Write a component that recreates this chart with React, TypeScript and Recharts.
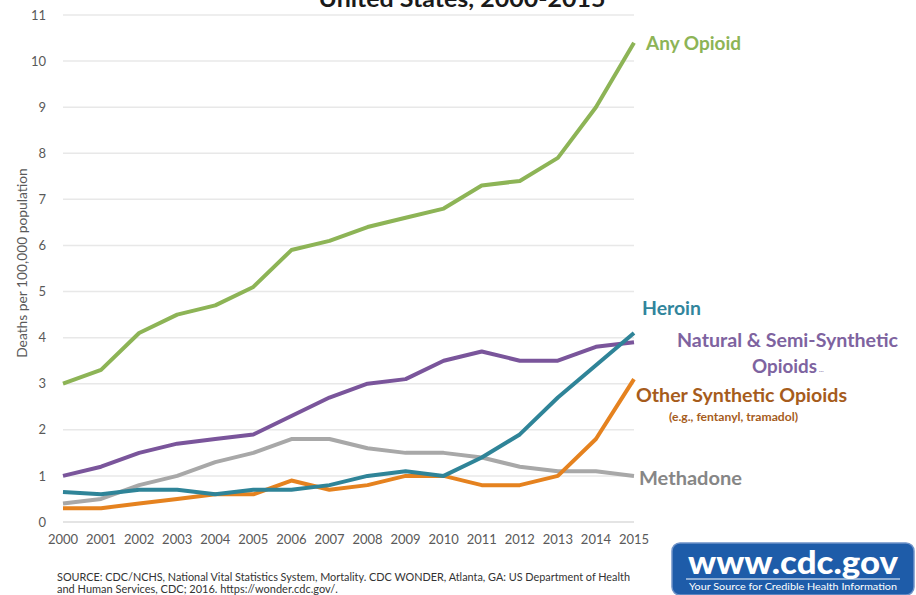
import { LineChart, Line, XAxis, YAxis, CartesianGrid } from "recharts"

const years = ["2000", "2001", "2002", "2003", "2004", "2005", "2006", "2007", "2008", "2009", "2010", "2011", "2012", "2013", "2014", "2015"]
const anyOpioid = [3.0, 3.3, 4.1, 4.5, 4.7, 5.1, 5.9, 6.1, 6.4, 6.6, 6.8, 7.3, 7.4, 7.9, 9.0, 10.4]
const naturalSemi = [1.0, 1.2, 1.5, 1.7, 1.8, 1.9, 2.3, 2.7, 3.0, 3.1, 3.5, 3.7, 3.5, 3.5, 3.8, 3.9]
const methadone = [0.4, 0.5, 0.8, 1.0, 1.3, 1.5, 1.8, 1.8, 1.6, 1.5, 1.5, 1.4, 1.2, 1.1, 1.1, 1.0]
const otherSynthetic = [0.3, 0.3, 0.4, 0.5, 0.6, 0.6, 0.9, 0.7, 0.8, 1.0, 1.0, 0.8, 0.8, 1.0, 1.8, 3.1]
const heroin = [0.65, 0.6, 0.7, 0.7, 0.6, 0.7, 0.7, 0.8, 1.0, 1.1, 1.0, 1.4, 1.9, 2.7, 3.4, 4.1]
const yTicks = [0, 1, 2, 3, 4, 5, 6, 7, 8, 9, 10, 11]

const data = years.map((year, i) => ({
  year,
  anyOpioid: anyOpioid[i],
  naturalSemi: naturalSemi[i],
  methadone: methadone[i],
  otherSynthetic: otherSynthetic[i],
  heroin: heroin[i],
}))

const font = "Lato, 'Open Sans', sans-serif"

export default function App() {
  return (
    <div style={{ position: "absolute", left: 0, top: 0, width: 916, height: 595, overflow: "hidden", background: "#fff", fontFamily: font }}>
      <LineChart width={916} height={595} data={data} margin={{ top: 15, right: 282, left: 0, bottom: 0 }}>
        <CartesianGrid vertical={false} stroke="#e8e8e8" strokeWidth={1.5} />
        <XAxis
          dataKey="year"
          height={73}
          tickSize={0}
          tickMargin={13}
          axisLine={{ stroke: "#e0e0e0", strokeWidth: 1.5 }}
          tick={{ fill: "#595959", fontSize: 13, fontFamily: font }}
          interval={0}
        />
        <YAxis
          width={63}
          domain={[0, 11]}
          ticks={yTicks}
          tickSize={0}
          tickMargin={17}
          axisLine={false}
          tick={{ fill: "#595959", fontSize: 13, fontFamily: font }}
        />
        <Line dataKey="anyOpioid" stroke="#8db456" strokeWidth={4} dot={false} isAnimationActive={false} strokeLinejoin="round" />
        <Line dataKey="naturalSemi" stroke="#7a559b" strokeWidth={4} dot={false} isAnimationActive={false} strokeLinejoin="round" />
        <Line dataKey="methadone" stroke="#a8a8a8" strokeWidth={4} dot={false} isAnimationActive={false} strokeLinejoin="round" />
        <Line dataKey="otherSynthetic" stroke="#e5821f" strokeWidth={4} dot={false} isAnimationActive={false} strokeLinejoin="round" />
        <Line dataKey="heroin" stroke="#2f8498" strokeWidth={4} dot={false} isAnimationActive={false} strokeLinejoin="round" />
      </LineChart>

      <svg width={916} height={595} style={{ position: "absolute", left: 0, top: 0, pointerEvents: "none" }} fontFamily={font}>
        <text x={462} y={7} textAnchor="middle" fontSize={23} fontWeight={700} fill="#1a1a1a" textLength={287} lengthAdjust="spacingAndGlyphs">United States, 2000-2015</text>

        <text x={23} y={263} transform="rotate(-90 23 263)" textAnchor="middle" dominantBaseline="middle" fontSize={13.8} fill="#595959">
          Deaths per 100,000 population
        </text>

        <text x={646} y={50} fontSize={19} fontWeight={700} fill="#8db456">Any Opioid</text>
        <text x={642} y={315} fontSize={19} fontWeight={700} fill="#31859c" textLength={59} lengthAdjust="spacingAndGlyphs">Heroin</text>
        <text x={677} y={347} fontSize={19.5} fontWeight={700} fill="#7e63a0" textLength={221} lengthAdjust="spacingAndGlyphs">Natural &amp; Semi-Synthetic</text>
        <text x={752} y={373} fontSize={19.5} fontWeight={700} fill="#7e63a0" textLength={65} lengthAdjust="spacingAndGlyphs">Opioids</text>
        <text x={819} y={372} fontSize={6} fontWeight={700} fill="#7e63a0">…</text>
        <text x={636} y={402} fontSize={19.5} fontWeight={700} fill="#a65c1c" textLength={211} lengthAdjust="spacingAndGlyphs">Other Synthetic Opioids</text>
        <text x={669} y={421} fontSize={12.2} fontWeight={700} fill="#a65c1c" textLength={129} lengthAdjust="spacingAndGlyphs">(e.g., fentanyl, tramadol)</text>
        <text x={639} y={485} fontSize={19.5} fontWeight={700} fill="#868686" textLength={103} lengthAdjust="spacingAndGlyphs">Methadone</text>

        <text x={57} y={581} fontSize={11} fill="#333" textLength={573} lengthAdjust="spacingAndGlyphs">
          SOURCE: CDC/NCHS, National Vital Statistics System, Mortality. CDC WONDER, Atlanta, GA: US Department of Health
        </text>
        <text x={57} y={593} fontSize={11} fill="#333">and Human Services, CDC; 2016. https://wonder.cdc.gov/.</text>

        <rect x={672} y={543} width={242} height={52} rx={8} fill="#1e5ca9" stroke="#6f93c9" strokeWidth={1.5} />
        <text x={793} y={574} textAnchor="middle" fontSize={33} fontWeight={900} fill="#fff" textLength={210} lengthAdjust="spacingAndGlyphs">www.cdc.gov</text>
        <line x1={686} x2={900} y1={579} y2={579} stroke="#fff" strokeWidth={1} />
        <text x={793} y={590} textAnchor="middle" fontSize={9.5} fill="#fff" textLength={208} lengthAdjust="spacingAndGlyphs">Your Source for Credible Health Information</text>
      </svg>
    </div>
  )
}
